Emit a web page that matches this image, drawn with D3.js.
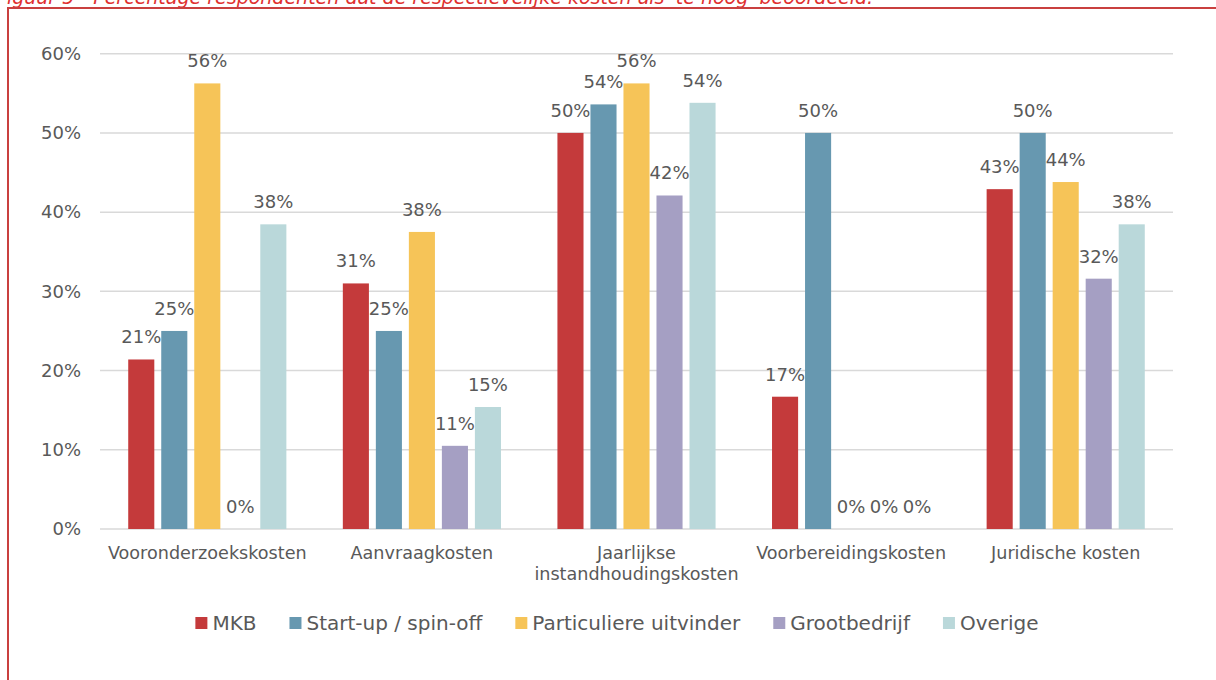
<!DOCTYPE html>
<html>
<head>
<meta charset="utf-8">
<script src="https://cdn.jsdelivr.net/npm/d3@7"></script>
<style>
  body { margin: 0; background: #fff; }
  svg { display: block; font-family: "DejaVu Sans", sans-serif; }
</style>
</head>
<body>
<svg id="chart" width="1216" height="680"></svg>
<script>
// Data
var categories = ["Vooronderzoekskosten", "Aanvraagkosten", "Jaarlijkse\ninstandhoudingskosten", "Voorbereidingskosten", "Juridische kosten"];
var seriesNames = ["MKB", "Start-up / spin-off", "Particuliere uitvinder", "Grootbedrijf", "Overige"];
var mkb = [0.214, 0.310, 0.500, 0.167, 0.429];
var startup = [0.250, 0.250, 0.536, 0.500, 0.500];
var particulier = [0.5625, 0.375, 0.5625, 0, 0.438];
var grootbedrijf = [0, 0.105, 0.421, 0, 0.316];
var overige = [0.3846, 0.154, 0.538, 0, 0.3846];
var yTicks = [0, 0.1, 0.2, 0.3, 0.4, 0.5, 0.6];
var colors = ["#c43a3b", "#6798b0", "#f6c458", "#a59fc3", "#bad8da"];

var values = [mkb, startup, particulier, grootbedrijf, overige];
var textColor = "#595959";

var svg = d3.select("#chart");

// Caption (cut off at top, as in the source) and frame
svg.append("text")
  .attr("x", -4).attr("y", 4)
  .attr("font-size", 19)
  .attr("font-style", "italic")
  .attr("fill", "#e0302f")
  .text("Figuur 5 - Percentage respondenten dat de respectievelijke kosten als 'te hoog' beoordeeld.");

svg.append("path")
  .attr("d", "M8,690 L8,8 L1230,8")
  .attr("fill", "none")
  .attr("stroke", "#c9403f")
  .attr("stroke-width", 2);

// Scales
var x0 = d3.scaleBand()
  .domain(categories)
  .range([100, 1173]);

var x1 = d3.scaleBand()
  .domain(seriesNames)
  .range([0, x0.bandwidth()])
  .paddingInner(0.21)
  .paddingOuter(0.855);

var y = d3.scaleLinear()
  .domain([0, 0.6])
  .range([529, 53.7]);

// Gridlines
svg.append("g")
  .selectAll("line")
  .data(yTicks)
  .join("line")
  .attr("x1", 100).attr("x2", 1173)
  .attr("y1", function(d) { return y(d); })
  .attr("y2", function(d) { return y(d); })
  .attr("stroke", "#d9d9d9")
  .attr("stroke-width", 1.5);

// Y axis labels
var yAxis = d3.axisLeft(y)
  .tickValues(yTicks)
  .tickFormat(d3.format(".0%"))
  .tickSize(0)
  .tickPadding(0);

svg.append("g")
  .attr("transform", "translate(81,0)")
  .call(yAxis)
  .call(function(g) { g.select(".domain").remove(); })
  .selectAll("text")
  .attr("font-size", 18)
  .attr("font-family", "DejaVu Sans, sans-serif")
  .attr("fill", textColor);

// Bars
var groups = svg.append("g")
  .selectAll("g")
  .data(categories)
  .join("g")
  .attr("transform", function(d) { return "translate(" + x0(d) + ",0)"; });

var barData = function(c, i) {
  return seriesNames.map(function(s, j) {
    return { series: s, value: values[j][i], color: colors[j] };
  });
};

groups.selectAll("rect")
  .data(barData)
  .join("rect")
  .attr("x", function(d) { return x1(d.series); })
  .attr("y", function(d) { return y(d.value); })
  .attr("width", x1.bandwidth())
  .attr("height", function(d) { return y(0) - y(d.value); })
  .attr("fill", function(d) { return d.color; });

groups.selectAll("text.val")
  .data(barData)
  .join("text")
  .attr("class", "val")
  .attr("x", function(d) { return x1(d.series) + x1.bandwidth() / 2; })
  .attr("y", function(d) { return y(d.value) - 16; })
  .attr("text-anchor", "middle")
  .attr("font-size", 18)
  .attr("fill", textColor)
  .text(function(d) { return Math.round(d.value * 100) + "%"; });

// Category labels
var catLabels = svg.append("g")
  .selectAll("text")
  .data(categories)
  .join("text")
  .attr("x", function(d) { return x0(d) + x0.bandwidth() / 2; })
  .attr("y", 559)
  .attr("text-anchor", "middle")
  .attr("font-size", 17.6)
  .attr("fill", textColor);

catLabels.selectAll("tspan")
  .data(function(d) { return d.split("\n"); })
  .join("tspan")
  .attr("x", function() { return d3.select(this.parentNode).attr("x"); })
  .attr("dy", function(d, i) { return i === 0 ? 0 : 21; })
  .text(function(d) { return d; });

// Legend
var legend = svg.append("g");
var items = legend.selectAll("g")
  .data(seriesNames)
  .join("g");

items.append("rect")
  .attr("width", 12).attr("height", 12)
  .attr("y", -6)
  .attr("fill", function(d, i) { return colors[i]; });

items.append("text")
  .attr("x", 17)
  .attr("dy", "0.35em")
  .attr("font-size", 20)
  .attr("fill", textColor)
  .text(function(d) { return d; });

var pos = 0;
items.each(function() {
  var w = 17 + d3.select(this).select("text").node().getComputedTextLength();
  d3.select(this).attr("data-x", pos);
  pos += w + 33;
});
var total = pos - 33;
var startX = 617 - total / 2;
items.attr("transform", function() {
  return "translate(" + (startX + (+d3.select(this).attr("data-x"))) + ",623)";
});
</script>
</body>
</html>
